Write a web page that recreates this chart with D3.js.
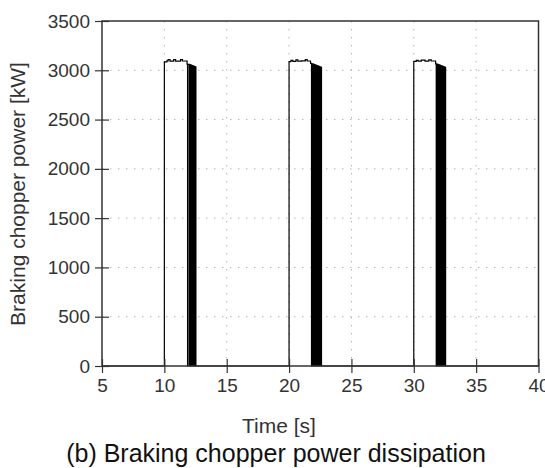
<!DOCTYPE html>
<html>
<head>
<meta charset="utf-8">
<script src="https://cdn.jsdelivr.net/npm/d3@7"></script>
<style>
  html, body { margin: 0; padding: 0; background: #fff; }
  svg { display: block; font-family: "Liberation Sans", Arial, Helvetica, sans-serif; }
</style>
</head>
<body>
<svg id="chart" width="545" height="468"></svg>
<script>
// Axis ticks
const timeTicks = [5, 10, 15, 20, 25, 30, 35, 40];
const powerTicks = [0, 500, 1000, 1500, 2000, 2500, 3000, 3500];

// Braking chopper power [kW] vs time [s]; each value holds until the next sample.
const pulse1 = [
  [10.00, 3085], [10.20, 3095], [10.30, 3108], [10.45, 3092], [10.75, 3108], [10.90, 3092],
  [11.30, 3108], [11.45, 3094], [11.82, 3062], [11.86, 0], [11.88, 3060],
  [12.00, 0], [12.02, 3058], [12.04, 0], [12.06, 3056], [12.08, 0], [12.10, 3054],
  [12.12, 0], [12.14, 3052], [12.16, 0], [12.18, 3050], [12.20, 0], [12.22, 3048],
  [12.24, 0], [12.26, 3046], [12.28, 0], [12.30, 3044], [12.32, 0], [12.34, 3042],
  [12.36, 0], [12.38, 3040], [12.40, 0], [12.42, 3038], [12.44, 0], [12.46, 3036],
  [12.48, 0], [12.50, 3034], [12.53, 0]
];
const pulse2 = [
  [20.00, 3088], [20.15, 3100], [20.30, 3090], [20.55, 3105], [20.70, 3092], [21.00, 3096],
  [21.30, 3108], [21.45, 3094], [21.72, 3070], [21.80, 0], [21.83, 3065],
  [21.92, 0], [21.94, 3062], [21.96, 0], [21.98, 3060], [22.00, 0], [22.02, 3058],
  [22.04, 0], [22.06, 3056], [22.08, 0], [22.10, 3054], [22.12, 0], [22.14, 3052],
  [22.16, 0], [22.18, 3050], [22.20, 0], [22.22, 3048], [22.24, 0], [22.26, 3046],
  [22.28, 0], [22.30, 3044], [22.32, 0], [22.34, 3042], [22.36, 0], [22.38, 3040],
  [22.40, 0], [22.42, 3038], [22.44, 0], [22.46, 3036], [22.48, 0], [22.50, 3034],
  [22.52, 0], [22.54, 3032], [22.56, 0], [22.58, 3030], [22.60, 0]
];
const pulse3 = [
  [30.00, 3090], [30.20, 3100], [30.35, 3092], [30.60, 3104], [30.90, 3092], [31.20, 3106],
  [31.40, 3094], [31.75, 3065], [31.80, 0], [31.83, 3062],
  [31.90, 0], [31.92, 3060], [31.94, 0], [31.96, 3058], [31.98, 0], [32.00, 3056],
  [32.02, 0], [32.04, 3054], [32.06, 0], [32.08, 3052], [32.10, 0], [32.12, 3050],
  [32.14, 0], [32.16, 3048], [32.18, 0], [32.20, 3046], [32.22, 0], [32.24, 3044],
  [32.26, 0], [32.28, 3042], [32.30, 0], [32.32, 3040], [32.34, 0], [32.36, 3038],
  [32.38, 0], [32.40, 3036], [32.42, 0], [32.44, 3034], [32.46, 0], [32.48, 3032],
  [32.50, 0], [32.52, 3030], [32.55, 0]
];

const trace = [[5, 0], ...pulse1, ...pulse2, ...pulse3, [40, 0]];

const plot = { left: 102, right: 538.5, top: 21, bottom: 366 };
const svg = d3.select("#chart");

const x = d3.scaleLinear().domain([5, 40]).range([plot.left, plot.right]);
const y = d3.scaleLinear().domain([0, 3500]).range([plot.bottom, plot.top]);

// Dotted grid
const grid = svg.append("g").attr("stroke", "#b4b4b4").attr("stroke-width", 1)
  .attr("stroke-dasharray", "1.5,6.5");
grid.selectAll("line.vx").data(timeTicks.slice(1, -1)).join("line")
  .attr("x1", d => x(d)).attr("x2", d => x(d))
  .attr("y1", plot.top).attr("y2", plot.bottom);
grid.selectAll("line.hy").data(powerTicks.slice(1, -1)).join("line")
  .attr("x1", plot.left).attr("x2", plot.right)
  .attr("y1", d => y(d)).attr("y2", d => y(d));

// Power trace
const line = d3.line().x(d => x(d[0])).y(d => y(d[1])).curve(d3.curveStepAfter);
svg.append("path").datum(trace)
  .attr("fill", "none").attr("stroke", "#000").attr("stroke-width", 1.2)
  .attr("d", line);

// Frame
svg.append("rect")
  .attr("x", plot.left).attr("y", plot.top)
  .attr("width", plot.right - plot.left).attr("height", plot.bottom - plot.top)
  .attr("fill", "none").attr("stroke", "#333").attr("stroke-width", 1.5);

// Axes (ticks cross the frame)
const fmt = d3.format("d");
const xAxis = svg.append("g").attr("transform", `translate(0,${plot.bottom})`)
  .call(d3.axisBottom(x).tickValues(timeTicks).tickFormat(fmt)
    .tickSize(7).tickPadding(6).tickSizeOuter(0));
xAxis.selectAll(".tick").append("line").attr("y2", -7);

const yAxis = svg.append("g").attr("transform", `translate(${plot.left},0)`)
  .call(d3.axisLeft(y).tickValues(powerTicks).tickFormat(fmt)
    .tickSize(7).tickPadding(5).tickSizeOuter(0));
yAxis.selectAll(".tick").append("line").attr("x2", 7);

[xAxis, yAxis].forEach(a => {
  a.select(".domain").remove();
  a.selectAll(".tick line").attr("stroke", "#333").attr("stroke-width", 1.2);
  a.selectAll("text").attr("font-size", 19).attr("fill", "#333")
    .attr("font-family", "Liberation Sans, Arial, sans-serif");
});

// Axis titles
svg.append("text").attr("x", 279).attr("y", 433).attr("text-anchor", "middle")
  .attr("font-size", 21).attr("fill", "#333").text("Time [s]");
svg.append("text").attr("transform", "translate(25,194) rotate(-90)")
  .attr("text-anchor", "middle").attr("font-size", 21).attr("fill", "#333")
  .text("Braking chopper power [kW]");

// Caption
svg.append("text").attr("x", 276).attr("y", 462).attr("text-anchor", "middle")
  .attr("font-size", 25).attr("fill", "#111")
  .text("(b) Braking chopper power dissipation");
</script>
</body>
</html>
